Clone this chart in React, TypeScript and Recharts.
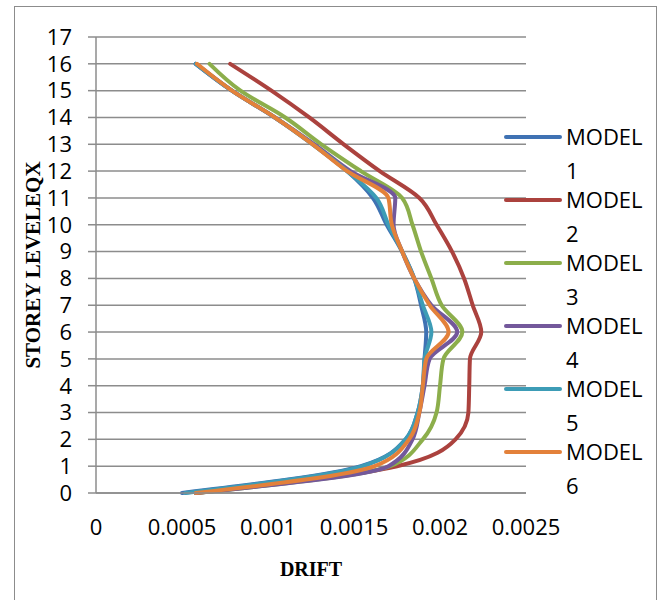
import React from 'react';
import {
  LineChart,
  Line,
  XAxis,
  YAxis,
  CartesianGrid,
  Legend,
  Label
} from 'recharts';

const storeys = [0, 1, 2, 3, 4, 5, 6, 7, 8, 9, 10, 11, 12, 13, 14, 15, 16];

const model1 = [0.0005, 0.00154, 0.0018, 0.00187, 0.0019, 0.00191, 0.00192, 0.00189, 0.00185, 0.00178, 0.00169, 0.00161, 0.00146, 0.00126, 0.00104, 0.00079, 0.00058];
const model2 = [0.00058, 0.00175, 0.00209, 0.002165, 0.00217, 0.002174, 0.00224, 0.00219, 0.00214, 0.00207, 0.00198, 0.00188, 0.00165, 0.00144, 0.00124, 0.00102, 0.00078];
const model3 = [0.00058, 0.00171, 0.0019, 0.00198, 0.002, 0.00202, 0.00213, 0.00201, 0.00195, 0.00189, 0.00184, 0.00178, 0.00154, 0.00131, 0.0011, 0.00084, 0.00066];
const model4 = [0.00058, 0.0017, 0.00184, 0.00188, 0.00191, 0.00194, 0.0021, 0.00195, 0.00185, 0.00178, 0.00173, 0.00174, 0.00148, 0.00127, 0.00104, 0.00079, 0.00058];
const model5 = [0.00052, 0.00155, 0.0018, 0.00187, 0.0019, 0.00191, 0.00195, 0.0019, 0.00185, 0.00178, 0.0017, 0.00163, 0.00146, 0.00126, 0.00104, 0.00079, 0.00058];
const model6 = [0.00058, 0.00162, 0.00182, 0.00188, 0.0019, 0.00192, 0.00205, 0.00194, 0.00185, 0.00178, 0.00172, 0.0017, 0.00146, 0.00126, 0.00104, 0.00079, 0.000587];

const seriesNames = ['MODEL 1', 'MODEL 2', 'MODEL 3', 'MODEL 4', 'MODEL 5', 'MODEL 6'];
const seriesColors = ['#3f72b3', '#ab423e', '#8cae4b', '#73589b', '#3d9cb6', '#e3813a'];

const xTicks = [0, 0.0005, 0.001, 0.0015, 0.002, 0.0025];
const yTicks = [0, 1, 2, 3, 4, 5, 6, 7, 8, 9, 10, 11, 12, 13, 14, 15, 16, 17];

const allModels = [model1, model2, model3, model4, model5, model6];
const data = storeys.map((s, i) => {
  const row: Record<string, number> = { storey: s };
  allModels.forEach((m, j) => {
    row['m' + (j + 1)] = m[i];
  });
  return row;
});

const sansFont = '"Open Sans", sans-serif';
const serifFont = '"Liberation Serif", "Times New Roman", serif';

// legend sits over the right end of the plot, like the Excel original
const renderLegend = () => (
  <svg width={160} height={380} style={{ overflow: 'visible' }}>
    {seriesNames.map((name, i) => {
      const [word, num] = name.split(' ');
      const y = 17 + i * 63;
      return (
        <g key={name}>
          <line x1={6} x2={60} y1={y} y2={y} stroke={seriesColors[i]} strokeWidth={4} strokeLinecap="round" />
          <text x={66} y={y} dy="0.36em" fontSize={22} fontFamily={sansFont} fill="#000">{word}</text>
          <text x={66} y={y + 34} dy="0.36em" fontSize={22} fontFamily={sansFont} fill="#000">{num}</text>
        </g>
      );
    })}
  </svg>
);

export default function App() {
  return (
    <div style={{ position: 'absolute', left: 0, top: 0, width: 665, height: 600, background: '#fff' }}>
      <div style={{ position: 'absolute', left: 14, top: 6, width: 643, height: 600, border: '1px solid #8c8c8c', boxSizing: 'border-box' }} />
      <LineChart
        layout="vertical"
        width={665}
        height={600}
        data={data}
        margin={{ top: 37, right: 139, bottom: 0, left: 0 }}
      >
        <CartesianGrid vertical={false} stroke="#8c8c8c" strokeWidth={1.5} />
        <XAxis
          type="number"
          domain={[0, 0.0025]}
          ticks={xTicks}
          interval={0}
          height={107}
          tickLine={false}
          axisLine={{ stroke: '#8c8c8c', strokeWidth: 1.5 }}
          tickMargin={20}
          tick={{ fill: '#000', fontSize: 22, fontFamily: sansFont }}
        >
          <Label value="DRIFT" position="insideBottom" offset={24} style={{ fontFamily: serifFont, fontWeight: 'bold', fontSize: 20, fill: '#000' }} />
        </XAxis>
        <YAxis
          type="number"
          dataKey="storey"
          domain={[0, 17]}
          ticks={yTicks}
          interval={0}
          reversed
          width={96}
          tickSize={8}
          tickMargin={16}
          tickLine={{ stroke: '#8c8c8c', strokeWidth: 1.5 }}
          axisLine={{ stroke: '#8c8c8c', strokeWidth: 1.5 }}
          tick={{ fill: '#000', fontSize: 22, fontFamily: sansFont }}
        >
          <Label value="STOREY LEVELEQX" angle={-90} position="insideLeft" offset={33} style={{ textAnchor: 'middle', fontFamily: serifFont, fontWeight: 'bold', fontSize: 21, fill: '#000' }} />
        </YAxis>
        <Legend
          layout="vertical"
          content={renderLegend}
          wrapperStyle={{ position: 'absolute', left: 500, top: 120, width: 0, height: 0, overflow: 'visible' }}
        />
        {seriesNames.map((name, i) => (
          <Line
            key={name}
            type="monotone"
            dataKey={'m' + (i + 1)}
            name={name}
            stroke={seriesColors[i]}
            strokeWidth={4}
            strokeLinecap="round"
            dot={false}
            activeDot={false}
            isAnimationActive={false}
          />
        ))}
      </LineChart>
    </div>
  );
}
